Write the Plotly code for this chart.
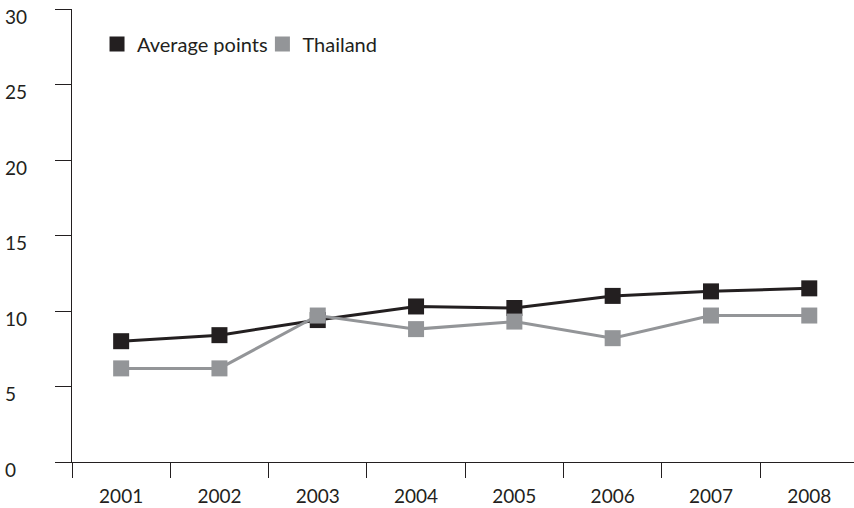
import plotly.graph_objects as go

years = ["2001", "2002", "2003", "2004", "2005", "2006", "2007", "2008"]
average_points = [8.0, 8.4, 9.4, 10.3, 10.2, 11.0, 11.3, 11.5]
thailand = [6.2, 6.2, 9.7, 8.8, 9.3, 8.2, 9.7, 9.7]
y_ticks = [0, 5, 10, 15, 20, 25, 30]
y_ticktext = ["0\u2007", "5\u2007", "10", "15", "20", "25", "30"]

BLACK = "#231f20"
GRAY = "#939598"
FONT = "Lato"

fig = go.Figure()
fig.add_trace(go.Scatter(x=years, y=average_points, mode="lines+markers", name="Average points",
                         line=dict(color=BLACK, width=3), marker=dict(symbol="square", size=16, color=BLACK),
                         showlegend=False))
fig.add_trace(go.Scatter(x=years, y=thailand, mode="lines+markers", name="Thailand",
                         line=dict(color=GRAY, width=3), marker=dict(symbol="square", size=16, color=GRAY),
                         showlegend=False))
# legend-only entries (square symbols, no line), one legend box each
fig.add_trace(go.Scatter(x=[None], y=[None], mode="markers", name="Average points",
                         marker=dict(symbol="square", size=15, color=BLACK), legend="legend"))
fig.add_trace(go.Scatter(x=[None], y=[None], mode="markers", name="Thailand",
                         marker=dict(symbol="square", size=15, color=GRAY), legend="legend2"))

leg_common = dict(orientation="h", yanchor="middle", xanchor="left",
                  font=dict(family=FONT, size=20, color=BLACK),
                  bgcolor="rgba(0,0,0,0)", itemwidth=30)

fig.update_layout(
    width=854, height=508,
    margin=dict(l=72, r=0, t=9, b=46, autoexpand=False),
    paper_bgcolor="white", plot_bgcolor="white",
    font=dict(family=FONT, size=19, color=BLACK),
    legend=dict(x=0.032, y=0.923, **leg_common),
    legend2=dict(x=0.2435, y=0.923, **leg_common),
)
fig.update_xaxes(type="category", range=[-0.5, 7.455], showgrid=False, zeroline=False,
                 showline=True, linecolor=BLACK, linewidth=1.3, automargin=False,
                 ticks="outside", ticklen=15, tickwidth=1.3, tickcolor=BLACK,
                 tickson="boundaries", tickfont=dict(family=FONT, size=19, color=BLACK),
                 ticklabelstandoff=17, ticklabeloverflow="allow")
fig.update_yaxes(range=[0, 30], tickvals=y_ticks, ticktext=y_ticktext, showgrid=False, zeroline=False,
                 showline=True, linecolor=BLACK, linewidth=1.3, automargin=False,
                 ticks="outside", ticklen=16, tickwidth=1.3, tickcolor=BLACK,
                 tickfont=dict(family=FONT, size=19, color=BLACK),
                 ticklabelstandoff=24, ticklabelshift=8, ticklabeloverflow="allow")

fig.write_html("out.html", config={"displayModeBar": False},
               post_script="document.body.style.margin='0';")
